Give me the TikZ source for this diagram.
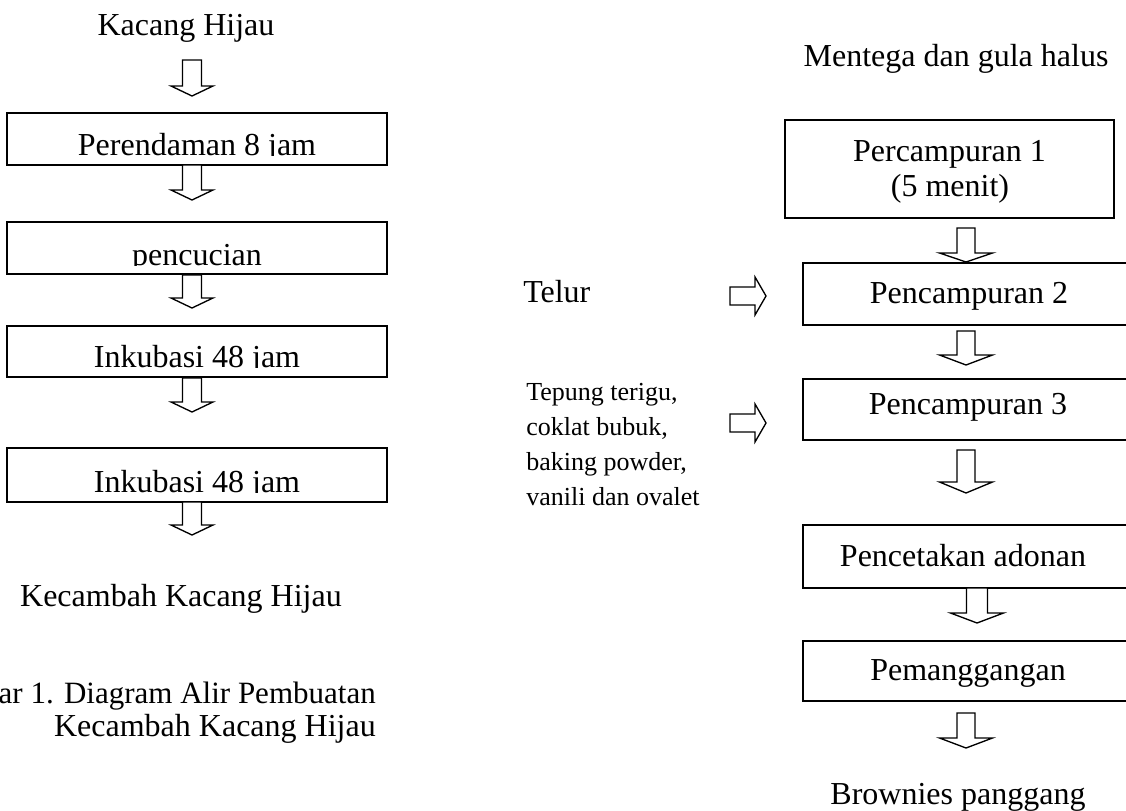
\documentclass[tikz,border=0pt]{standalone}
\usepackage{fontspec}
\setmainfont{Liberation Serif}
\usetikzlibrary{fit}
% block arrow pointing down: cx, top, head base, tip, stem half width, head half width
\newcommand\blockdown[6]{%
  \draw[blockarrow] ({#1-#5},#2) -- ({#1+#5},#2) -- ({#1+#5},#3) -- ({#1+#6},#3) -- (#1,#4) -- ({#1-#6},#3) -- ({#1-#5},#3) -- cycle;}
% block arrow pointing right: left x, cy, head start x, tip x, stem half height, head half height
\newcommand\blockright[6]{%
  \draw[blockarrow] (#1,{#2-#5}) -- (#3,{#2-#5}) -- (#3,{#2-#6}) -- (#4,#2) -- (#3,{#2+#6}) -- (#3,{#2+#5}) -- (#1,{#2+#5}) -- cycle;}
\tikzset{
  box/.style={draw, line width=1.15pt, inner sep=0pt, rectangle},
  blockarrow/.style={draw, line width=1pt, fill=white},
  lbl/.style={inner sep=0pt, anchor=base, font=\fontsize{24}{26.25}\selectfont},
  lblw/.style={lbl, anchor=base west},
  lble/.style={lbl, anchor=base east},
  small/.style={inner sep=0pt, anchor=base west, align=left, font=\fontsize{19.5}{26.25}\selectfont},
}
\begin{document}
\begin{tikzpicture}[x=0.75pt, y=-0.75pt]
\useasboundingbox (0,0) rectangle (1126,810);
\clip (0,0) rectangle (1126,810);
\fill[white] (0,0) rectangle (1126,810);

% ---------------- left column ----------------
\node[lbl] (kh) at (186,35) {Kacang Hijau};

\node[box, fit={(7,113) (387,165)}] (b1) {};
\node[box, fit={(7,222) (387,274)}] (b2) {};
\node[box, fit={(7,326) (387,377)}] (b3) {};
\node[box, fit={(7,448) (387,502)}] (b4) {};

\begin{scope}
  \clip (7,113) rectangle (387,155.5);
  \node[lbl] (t1) at (197,155) {Perendaman 8 jam};
\end{scope}
\begin{scope}
  \clip (7,222) rectangle (387,265.5);
  \node[lbl] (t2) at (197,265) {pencucian};
\end{scope}
\begin{scope}
  \clip (7,326) rectangle (387,367.5);
  \node[lbl] (t3) at (197,367) {Inkubasi 48 jam};
\end{scope}
\begin{scope}
  \clip (7,448) rectangle (387,492.5);
  \node[lbl] (t4) at (197,492) {Inkubasi 48 jam};
\end{scope}

\blockdown{192}{60}{86}{96}{9.5}{21}
\blockdown{192}{165}{190}{200}{9.5}{21}
\blockdown{192}{275}{298}{308}{9.5}{21}
\blockdown{192}{378}{402}{412}{9.5}{21}
\blockdown{192}{502}{525}{535}{9.5}{21}

\node[lbl] (kkh) at (181,606) {Kecambah Kacang Hijau};

\node[lble, font=\fontsize{23.25}{26.25}\selectfont] (cap1) at (376,703) {ar 1. Diagram Alir Pembuatan};
\node[lble] (cap2) at (376,736) {Kecambah Kacang Hijau};

% ---------------- right column ----------------
\node[lbl] (mg) at (956,66) {Mentega dan gula halus};

\node[box, fit={(785,120) (1114,218)}] (r1) {};
\node[lbl] (r1a) at (949.5,161) {Percampuran 1};
\node[lbl] (r1b) at (950,196) {(5 menit)};

\node[box, fit={(803,263) (1134,325)}] (r2) {};
\node[lbl] (r2t) at (969,303) {Pencampuran 2};

\node[box, fit={(803,379) (1134,440)}] (r3) {};
\node[lbl] (r3t) at (968,414) {Pencampuran 3};

\node[box, fit={(803,525) (1134,588)}] (r4) {};
\node[lbl] (r4t) at (963,566) {Pencetakan adonan};

\node[box, fit={(803,641) (1134,701)}] (r5) {};
\node[lbl] (r5t) at (968,680) {Pemanggangan};

\node[lbl] (bp) at (958,804) {Brownies panggang};

\node[lblw] (telur) at (523,302) {Telur};
\node[small] (tep) at (526,505) {Tepung terigu,\\coklat bubuk,\\baking powder,\\vanili dan ovalet};

\blockright{730}{296}{755}{766}{9}{19}
\blockright{730}{423}{755}{766}{9}{19}

\blockdown{966}{228}{253}{262}{9}{26.5}
\blockdown{966}{331}{355}{365}{9}{26.5}
\blockdown{966}{450}{482}{493}{9}{26.5}
\blockdown{977}{588}{613}{623}{10.5}{26.5}
\blockdown{966}{713}{738}{748}{9}{26.5}
\end{tikzpicture}
\end{document}
